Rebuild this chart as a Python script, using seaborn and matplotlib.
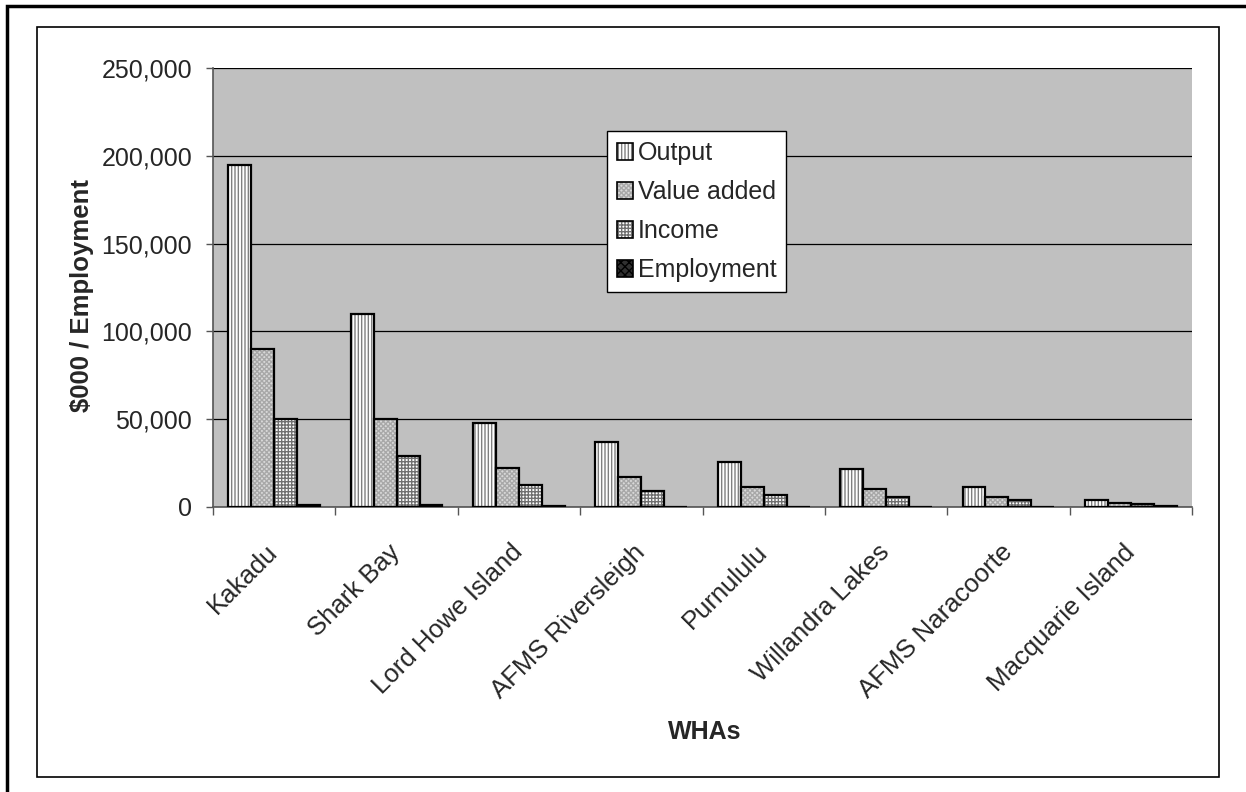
import matplotlib
matplotlib.use("Agg")
import matplotlib.pyplot as plt
import matplotlib.colors as mcolors
from matplotlib.patches import Rectangle, Patch
from matplotlib.ticker import FuncFormatter, FixedLocator
import seaborn as sns
import pandas as pd
import numpy as np

# data
sites = ["Kakadu", "Shark Bay", "Lord Howe Island", "AFMS Riversleigh",
         "Purnululu", "Willandra Lakes", "AFMS Naracoorte", "Macquarie Island"]
output = [195000, 110000, 48000, 36800, 25800, 21400, 11400, 3800]
value_added = [90000, 50000, 22400, 16900, 11400, 10400, 5900, 2500]
income = [50000, 29200, 12500, 9300, 6800, 5900, 3800, 1500]
employment = [1200, 900, 300, 250, 150, 120, 80, 700]
series = ["Output", "Value added", "Income", "Employment"]

df = pd.DataFrame({
    "WHA": sites * 4,
    "series": np.repeat(series, len(sites)),
    "value": output + value_added + income + employment,
})

sns.set_theme(style="white")
plt.rcParams["font.family"] = ["Liberation Sans", "DejaVu Sans"]

fig = plt.figure(figsize=(12.46, 7.92), dpi=100)
ax = fig.add_axes([213 / 1246, 1 - 507 / 792, (1192 - 213) / 1246, (507 - 68) / 792])

# outer frame and chart area frame
fig.patches.append(Rectangle((7 / 1246, -0.1), 1.2, 1 - 6 / 792 + 0.1,
                             transform=fig.transFigure, fill=False,
                             edgecolor="black", linewidth=2.5, zorder=0))
fig.patches.append(Rectangle((37 / 1246, 1 - 777 / 792), (1219 - 37) / 1246,
                             (777 - 27) / 792, transform=fig.transFigure,
                             fill=False, edgecolor="black", linewidth=1.2, zorder=0))

ax.set_facecolor("#C0C0C0")
sns.barplot(data=df, x="WHA", y="value", hue="series", order=sites,
            hue_order=series, width=0.75, gap=0, ax=ax, legend=False,
            errorbar=None, saturation=1)

styles = {
    "Output": dict(face="white", hatch="|||||", hc="#808080"),
    "Value added": dict(face="#D8D8D8", hatch="xxxxxxx", hc="#A8A8A8"),
    "Income": dict(face="white", hatch="+++++", hc="#707070"),
    "Employment": dict(face="#303030", hatch="xxxx", hc="#000000"),
}

def style_patch(p, st):
    p.set_facecolor(st["face"])
    p.set_edgecolor("black")
    p.set_linewidth(1.6)
    p.set_hatch(st["hatch"])
    if hasattr(p, "set_hatchcolor"):
        p.set_hatchcolor(st["hc"])
    else:
        p._hatch_color = mcolors.to_rgba(st["hc"])
    p.set_zorder(3)

for name, cont in zip(series, ax.containers):
    for p in cont:
        style_patch(p, styles[name])

ax.set_ylim(0, 250000)
ax.set_xlim(-0.5, len(sites) - 0.5)
ax.yaxis.set_major_locator(FixedLocator(np.arange(0, 250001, 50000)))
ax.yaxis.set_major_formatter(FuncFormatter(lambda v, _: f"{int(v):,}"))
ax.grid(axis="y", color="black", linewidth=0.9)
ax.set_axisbelow(True)

for s in ["top", "right"]:
    ax.spines[s].set_visible(False)
for s in ["left", "bottom"]:
    ax.spines[s].set_color("#555555")
    ax.spines[s].set_linewidth(1.2)

ax.tick_params(axis="y", which="major", direction="out", length=5, width=1,
               color="#555555", pad=10, labelsize=18, left=True)
ax.set_xticks(np.arange(len(sites)))
ax.set_xticklabels(sites, rotation=45, ha="right", va="center",
                   rotation_mode="anchor", fontsize=18.5)
ax.tick_params(axis="x", which="major", length=0, pad=30)
ax.set_xticks(np.arange(len(sites) + 1) - 0.5, minor=True)
ax.tick_params(axis="x", which="minor", direction="out", length=6, width=1,
               color="#555555", bottom=True)

ax.set_ylabel("$000 / Employment", fontsize=18.5, fontweight="bold")
ax.yaxis.set_label_coords((94 - 213) / 979, (507 - 295) / 439)
ax.set_xlabel("")
fig.text(705 / 1246, 1 - 732 / 792, "WHAs", fontsize=18, fontweight="bold",
         ha="center", va="center")

handles = []
for name in series:
    h = Patch(label=name)
    style_patch(h, styles[name])
    h.set_linewidth(1.2)
    handles.append(h)
leg = ax.legend(handles=handles, loc="upper left", bbox_to_anchor=(0.402, 0.856),
                fontsize=18, frameon=True, fancybox=False, framealpha=1,
                edgecolor="black", handlelength=0.65, handleheight=0.65,
                handletextpad=0.2, labelspacing=0.6, borderpad=0.4,
                borderaxespad=0)
leg.get_frame().set_linewidth(1.0)
leg.set_zorder(5)

fig.savefig("out.png", dpi=100)
